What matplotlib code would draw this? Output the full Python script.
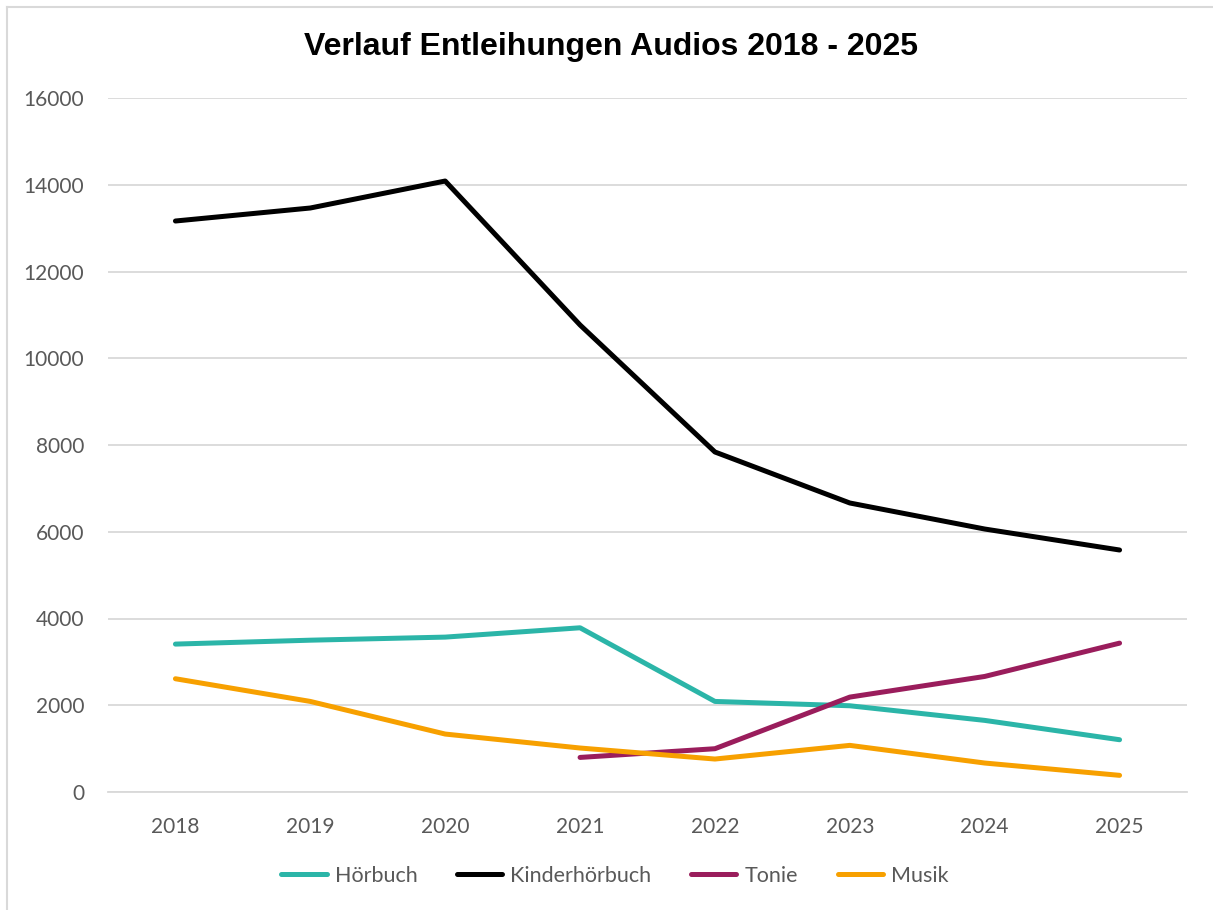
import numpy as np
import matplotlib
matplotlib.use('Agg')
import matplotlib.pyplot as plt
from matplotlib.lines import Line2D

years = ['2018', '2019', '2020', '2021', '2022', '2023', '2024', '2025']
hoerbuch = [3410, 3500, 3571, 3786, 2088, 1988, 1651, 1205]
kinderhoerbuch = [13164, 13464, 14086, 10767, 7839, 6663, 6063, 5579]
tonie = [np.nan, np.nan, np.nan, 797, 998, 2188, 2664, 3432]
musik = [2611, 2088, 1336, 1014, 760, 1075, 668, 384]

series = [
    ('Hörbuch', hoerbuch, '#2BB5A8'),
    ('Kinderhörbuch', kinderhoerbuch, '#000000'),
    ('Tonie', tonie, '#9A1D5C'),
    ('Musik', musik, '#F7A000'),
]

plt.rcParams['font.family'] = ['Lato', 'DejaVu Sans']

fig = plt.figure(figsize=(12.13, 9.10), dpi=100)
ax = fig.add_axes([108/1213, 1 - 792/910, (1187-108)/1213, (792-98)/910])

x = np.arange(len(years))
for name, vals, col in series:
    ax.plot(x, vals, color=col, lw=3.6, label=name,
            solid_capstyle='round', solid_joinstyle='round')

ax.set_xlim(-0.5, len(years) - 0.5)
ax.set_ylim(0, 16000)
ax.set_xticks(x)
ax.set_xticklabels(years)
ax.set_yticks(range(0, 16001, 2000))
ax.grid(axis='y', color='#D9D9D9', lw=1.3)
ax.set_axisbelow(True)
for s in ['top', 'right', 'left']:
    ax.spines[s].set_visible(False)
ax.spines['bottom'].set_color('#D9D9D9')
ax.spines['bottom'].set_linewidth(1.3)
ax.tick_params(length=0, labelsize=15, colors='#595959')
ax.tick_params(axis='x', pad=18)
ax.tick_params(axis='y', pad=17)

fig.text(0.504, 1 - 47/910, 'Verlauf Entleihungen Audios 2018 - 2025',
         ha='center', va='center', fontsize=23, fontweight='bold',
         family=['Liberation Sans', 'DejaVu Sans'])

fig.legend(loc='center', bbox_to_anchor=(615/1213, 1 - 876/910), ncol=4,
           frameon=False, fontsize=15.5, handlelength=2.1, handletextpad=0.37,
           columnspacing=1.85, labelcolor='#595959')

# outer border (top and left only visible)
fig.add_artist(Line2D([7/1213, 7/1213], [0, 1 - 7/910], color='#D9D9D9',
                      lw=1.5, transform=fig.transFigure))
fig.add_artist(Line2D([7/1213, 1], [1 - 7/910, 1 - 7/910], color='#D9D9D9',
                      lw=1.5, transform=fig.transFigure))

fig.savefig('out.png', dpi=100)
